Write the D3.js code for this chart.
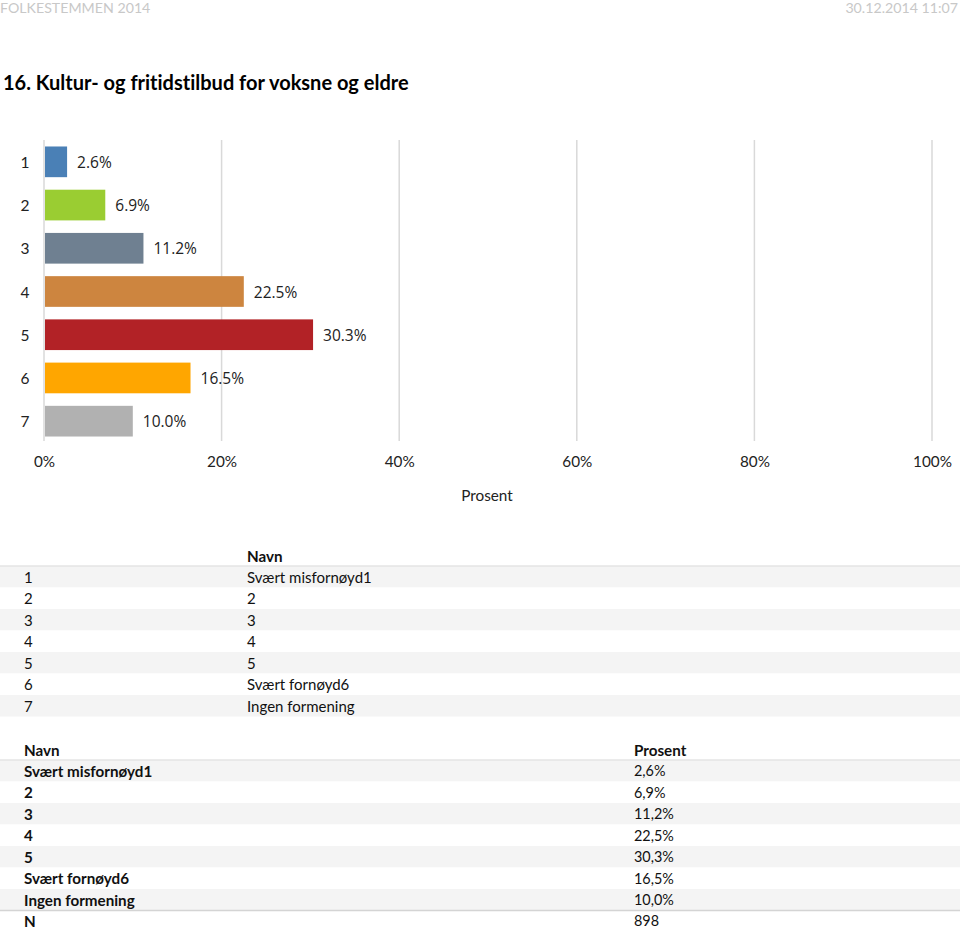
<!DOCTYPE html>
<html><head><meta charset="utf-8">
<script src="https://cdn.jsdelivr.net/npm/d3@7"></script>
<style>
html,body{margin:0;padding:0;background:#fff;}
svg{display:block;}
svg text{font-variant-ligatures:none;font-feature-settings:"liga" 0;}
</style></head>
<body>
<svg id="c" width="960" height="929"></svg>
<script>
const categories = ["1","2","3","4","5","6","7"];
const names = ["Svært misfornøyd1","2","3","4","5","Svært fornøyd6","Ingen formening"];
const values = [2.6, 6.9, 11.2, 22.5, 30.3, 16.5, 10.0];
const barColors = ["#4a80b6","#9acd32","#6f8091","#cd853f","#b22226","#ffa600","#b1b1b1"];
const tickValues = [0, 20, 40, 60, 80, 100];
const nTotal = 898;
const headerLeft = "FOLKESTEMMEN 2014";
const headerRight = "30.12.2014 11:07";
const title = "16. Kultur- og fritidstilbud for voksne og eldre";
const axisTitle = "Prosent";

const CAL = "Lato, Carlito, sans-serif";
const VAL = "'Open Sans', sans-serif";

const svg = d3.select("#c");

svg.append("text").attr("x",0).attr("y",13).attr("font-family",CAL).attr("font-size",14.2)
  .attr("fill","#c8c8c8").text(headerLeft);
svg.append("text").attr("x",958).attr("y",13).attr("text-anchor","end").attr("font-family",CAL).attr("font-size",14.2)
  .attr("fill","#c8c8c8").text(headerRight);
svg.append("text").attr("x",3).attr("y",90).attr("font-family",CAL).attr("font-size",20).attr("font-weight","bold")
  .attr("fill","#000").text(title);

// chart
const x = d3.scaleLinear().domain([0,100]).range([44,932]);
const y = d3.scaleBand().domain(categories).range([140,443]).paddingInner(0.29).paddingOuter(0.15);

const grid = svg.append("g");
grid.selectAll("line").data(tickValues).join("line")
  .attr("x1",d=>x(d)).attr("x2",d=>x(d)).attr("y1",140).attr("y2",441)
  .attr("stroke","#d9d9d9").attr("stroke-width",1.5);

svg.append("g").selectAll("rect").data(values).join("rect")
  .attr("x",x(0)+1).attr("y",(d,i)=>y(categories[i]))
  .attr("width",d=>x(d)-x(0)-1).attr("height",y.bandwidth())
  .attr("fill",(d,i)=>barColors[i]);

svg.append("g").selectAll("text").data(values).join("text")
  .attr("x",d=>x(d)+10).attr("y",(d,i)=>y(categories[i])+y.bandwidth()/2)
  .attr("dominant-baseline","central").attr("font-family",VAL).attr("font-size",15.5).attr("fill","#222")
  .text(d=>d.toFixed(1)+"%");

svg.append("g").selectAll("text").data(categories).join("text")
  .attr("x",25).attr("y",d=>y(d)+y.bandwidth()/2).attr("text-anchor","middle")
  .attr("dominant-baseline","central").attr("font-family",CAL).attr("font-size",15.5).attr("fill","#222")
  .text(d=>d);

const xAxis = d3.axisBottom(x).tickValues(tickValues).tickSize(0).tickFormat(d=>d+"%");
const ax = svg.append("g").attr("transform","translate(0,453)").call(xAxis);
ax.select(".domain").remove();
ax.selectAll("text").attr("font-family",CAL).attr("font-size",15.3).attr("fill","#222");

svg.append("text").attr("x",487).attr("y",495).attr("text-anchor","middle").attr("dominant-baseline","central")
  .attr("font-family",CAL).attr("font-size",15.3).attr("fill","#222").text(axisTitle);

// table 1
const rowH = 21.5;
const TF = 15;
function rowBg(top, n){
  const g = svg.append("g");
  g.selectAll("rect").data(d3.range(n)).join("rect")
    .attr("x",0).attr("width",960).attr("y",i=>top+i*rowH).attr("height",rowH)
    .attr("fill",i=>i%2===0?"#f4f4f4":"#fff");
}
const t1Top = 566;
rowBg(t1Top, categories.length);
svg.append("line").attr("x1",0).attr("x2",960).attr("y1",t1Top).attr("y2",t1Top).attr("stroke","#e4e4e4").attr("stroke-width",1.5);
svg.append("text").attr("x",247).attr("y",t1Top-10).attr("dominant-baseline","central")
  .attr("font-family",CAL).attr("font-size",15.2).attr("font-weight","bold").attr("fill","#111").text("Navn");
const t1 = svg.append("g");
categories.forEach((c,i)=>{
  const cy = t1Top + i*rowH + rowH/2;
  t1.append("text").attr("x",24).attr("y",cy).attr("dominant-baseline","central")
    .attr("font-family",CAL).attr("font-size",TF).attr("fill","#111").text(c);
  t1.append("text").attr("x",247).attr("y",cy).attr("dominant-baseline","central")
    .attr("font-family",CAL).attr("font-size",TF).attr("fill","#111").text(names[i]);
});

// table 2
const t2Top = 760;
rowBg(t2Top, names.length);
svg.append("line").attr("x1",0).attr("x2",960).attr("y1",t2Top).attr("y2",t2Top).attr("stroke","#e4e4e4").attr("stroke-width",1.5);
const nTop = t2Top + names.length*rowH;
svg.append("line").attr("x1",0).attr("x2",960).attr("y1",nTop).attr("y2",nTop).attr("stroke","#d4d4d4").attr("stroke-width",1.5);
svg.append("text").attr("x",24).attr("y",t2Top-10).attr("dominant-baseline","central")
  .attr("font-family",CAL).attr("font-size",15.2).attr("font-weight","bold").attr("fill","#111").text("Navn");
svg.append("text").attr("x",634).attr("y",t2Top-10).attr("dominant-baseline","central")
  .attr("font-family",CAL).attr("font-size",15.2).attr("font-weight","bold").attr("fill","#111").text("Prosent");
const t2 = svg.append("g");
const fmt = v => v.toFixed(1).replace(".",",")+"%";
names.forEach((n,i)=>{
  const cy = t2Top + i*rowH + rowH/2;
  t2.append("text").attr("x",24).attr("y",cy).attr("dominant-baseline","central")
    .attr("font-family",CAL).attr("font-size",15.2).attr("font-weight","bold").attr("fill","#111").text(n);
  t2.append("text").attr("x",634).attr("y",cy).attr("dominant-baseline","central")
    .attr("font-family",CAL).attr("font-size",14.4).attr("fill","#111").text(fmt(values[i]));
});
t2.append("text").attr("x",24).attr("y",nTop+rowH/2).attr("dominant-baseline","central")
  .attr("font-family",CAL).attr("font-size",15.2).attr("font-weight","bold").attr("fill","#111").text("N");
t2.append("text").attr("x",634).attr("y",nTop+rowH/2 - 0.5).attr("dominant-baseline","central")
  .attr("font-family",CAL).attr("font-size",14.4).attr("fill","#111").text(nTotal);
</script>
</body></html>
